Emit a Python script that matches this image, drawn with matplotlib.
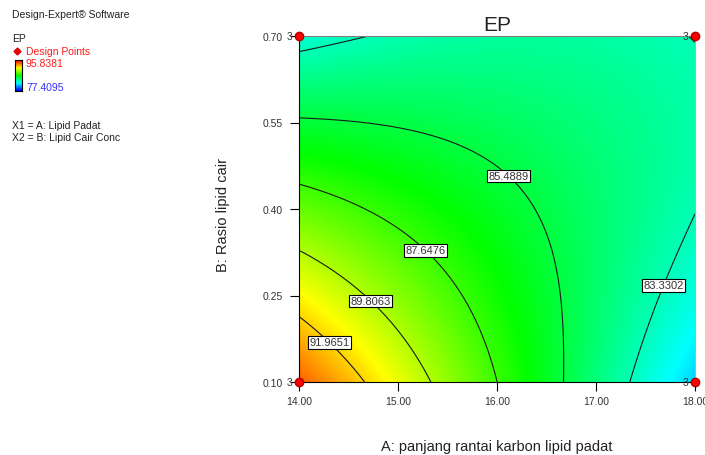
import numpy as np
import matplotlib
matplotlib.use("Agg")
import matplotlib.pyplot as plt
from matplotlib.colors import LinearSegmentedColormap
from matplotlib.lines import Line2D

plt.rcParams['font.family'] = ['Liberation Sans', 'DejaVu Sans']

# factor ranges (actual units)
a_range = [14.0, 18.0]
b_range = [0.10, 0.70]

# response surface for EP in coded units (A, B in -1..1)
coef_names = ['I', 'A', 'B', 'AB', 'A2', 'B2', 'A2B', 'AB2', 'A2B2']
coef_vals = [85.98, -2.55, -1.93, 3.34, -0.07, -0.256, -0.37, -0.556, -0.30]

ep_min = 77.4095
ep_max = 95.8381
levels = [83.3302, 85.4889, 87.6476, 89.8063, 91.9651]

# design points (corners, 3 replicates each)
design_a = [14.0, 14.0, 18.0, 18.0]
design_b = [0.10, 0.70, 0.10, 0.70]
design_n = [3, 3, 3, 3]

x_ticks = [14.0, 15.0, 16.0, 17.0, 18.0]
y_ticks = [0.10, 0.25, 0.40, 0.55, 0.70]

W, H = 705, 456
fig = plt.figure(figsize=(W / 100, H / 100), dpi=100)


def fx(px):
    return px / W


def fy(py):
    return 1 - py / H


ax = fig.add_axes([fx(299), fy(383), (695 - 299) / W, (383 - 37) / H])

cmap = LinearSegmentedColormap.from_list(
    'de', [(0, '#0000ff'), (0.25, '#00ffff'), (0.5, '#00ff00'),
           (0.75, '#ffff00'), (1, '#ff0000')])

xs = np.linspace(a_range[0], a_range[1], 400)
ys = np.linspace(b_range[0], b_range[1], 300)
X, Y = np.meshgrid(xs, ys)
A = (X - 16.0) / 2.0
B = (Y - 0.40) / 0.30
c = dict(zip(coef_names, coef_vals))
Z = (c['I'] + c['A'] * A + c['B'] * B + c['AB'] * A * B
     + c['A2'] * A**2 + c['B2'] * B**2 + c['A2B'] * A**2 * B
     + c['AB2'] * A * B**2 + c['A2B2'] * A**2 * B**2)

ax.imshow(Z, extent=[a_range[0], a_range[1], b_range[0], b_range[1]],
          origin='lower', aspect='auto', cmap=cmap, vmin=ep_min, vmax=ep_max,
          interpolation='bilinear')
cs = ax.contour(X, Y, Z, levels=levels, colors='#1a1a1a', linewidths=0.8)
label_pos = [(17.56, 0.276), (16.15, 0.464), (15.30, 0.332),
             (14.76, 0.247), (14.34, 0.175)]
texts = ax.clabel(cs, levels, fmt='%.4f', fontsize=8, inline=False,
                  manual=label_pos)
for t in texts:
    t.set_rotation(0)
    t.set_color('#333333')
    t.set_bbox(dict(boxstyle='square,pad=0.12', fc='white', ec='black', lw=0.8))

ax.plot(design_a, design_b, 'o', color='#ff0000', mec='#b00000', ms=6,
        clip_on=False, zorder=5)
for xa, yb, n in zip(design_a, design_b, design_n):
    ax.annotate(str(n), (xa, yb), xytext=(-6.7, 0), textcoords='offset points',
                ha='center', va='center', fontsize=7.5, color='#333333',
                annotation_clip=False)

ax.set_xlim(a_range)
ax.set_ylim(b_range)
ax.set_xticks(x_ticks)
ax.set_yticks(y_ticks)
ax.set_xticklabels([f'{v:.2f}' for v in x_ticks])
ax.set_yticklabels([f'{v:.2f}' for v in y_ticks])
ax.tick_params(direction='out', length=6.5, width=0.8, labelsize=7.5,
               labelcolor='#333333')
ax.tick_params(axis='x', pad=3.5)
ax.tick_params(axis='y', pad=5)
for s in ['left', 'bottom']:
    ax.spines[s].set_color('black')
ax.spines['top'].set_color('#808080')
ax.spines['right'].set_color('#b0b0b0')

ax.set_title('EP', fontsize=15, pad=4, color='#222222')
fig.text(fx(497), fy(447), 'A: panjang rantai karbon lipid padat',
         ha='center', va='center', fontsize=10.5, color='#222222')
fig.text(fx(223), fy(215), 'B: Rasio lipid cair', rotation=90,
         ha='center', va='center', fontsize=10.5, color='#222222')

# side panel
fig.text(fx(12), fy(15), 'Design-Expert® Software', fontsize=7.5,
         va='center', color='#222222')
fig.text(fx(12), fy(39), 'EP', fontsize=7.5, va='center', color='#222222')
fig.add_artist(Line2D([fx(17)], [fy(52)], marker='D', ms=3.5, color='#e00000',
                      transform=fig.transFigure))
fig.text(fx(26), fy(52), 'Design Points', fontsize=7.5, va='center',
         color='#ff1a1a')
cax = fig.add_axes([fx(15), fy(92), 6.5 / W, 31 / H])
cax.imshow(np.linspace(1, 0, 50).reshape(-1, 1), aspect='auto', cmap=cmap)
cax.set_xticks([])
cax.set_yticks([])
for s in cax.spines.values():
    s.set_linewidth(0.8)
fig.text(fx(26), fy(64), f'{ep_max:.4f}', fontsize=7.5, va='center',
         color='#ff1a1a')
fig.text(fx(26), fy(88), f'{ep_min:.4f}', fontsize=7.5, va='center',
         color='#3333ff')
fig.text(fx(12), fy(126), 'X1 = A: Lipid Padat', fontsize=7.5, va='center',
         color='#222222')
fig.text(fx(12), fy(138), 'X2 = B: Lipid Cair Conc', fontsize=7.5,
         va='center', color='#222222')

fig.savefig('out.png', dpi=100)
